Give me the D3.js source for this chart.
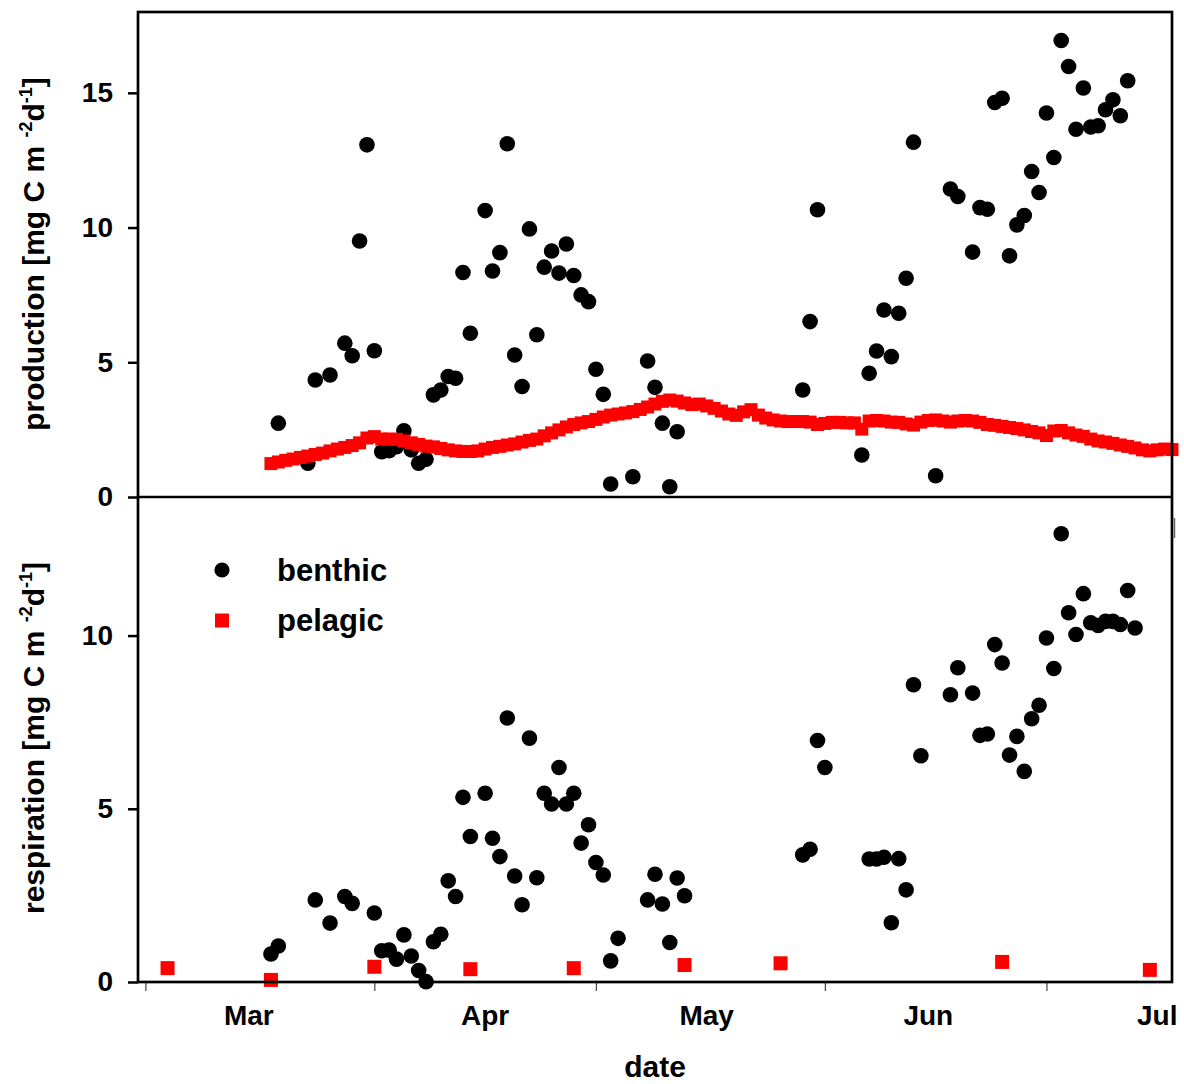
<!DOCTYPE html>
<html>
<head>
<meta charset="utf-8">
<script src="https://cdn.jsdelivr.net/npm/d3@7"></script>
<style>
  html, body { margin: 0; padding: 0; background: #fff; }
  svg { display: block; font-family: "Liberation Sans", Arial, Helvetica, sans-serif; font-weight: bold; }
</style>
</head>
<body>
<svg id="chart" width="1184" height="1084"></svg>
<script>
// ---- data (x = day of year) ----
const xTickDays = [60, 91, 121, 152, 182];
const xLabelDays = [74, 106, 136, 166, 197];
const xLabels = ["Mar", "Apr", "May", "Jun", "Jul"];
const prodTicks = [0, 5, 10, 15];
const respTicks = [0, 5, 10];

const benthicProdDays = [78,82,83,85,87,88,89,90,91,92,93,94,95,96,97,98,99,100,101,102,103,104,106,107,108,109,110,111,112,113,114,115,116,117,118,119,120,121,122,123,126,128,129,130,131,132,149,150,151,157,158,159,160,161,162,163,164,167,169,170,172,173,174,175,176,177,178,179,180,181,182,183,184,185,186,187,188,189,190,191,192,193];
const benthicProdValues = [2.74,1.25,4.34,4.53,5.71,5.24,9.50,13.07,5.43,1.68,1.72,1.87,2.46,1.75,1.25,1.40,3.79,3.97,4.47,4.41,8.33,6.08,10.63,8.39,9.07,13.11,5.27,4.10,9.95,6.02,8.53,9.13,8.31,9.39,8.22,7.50,7.25,4.74,3.81,0.48,0.75,5.05,4.07,2.74,0.38,2.42,3.97,6.51,10.66,1.56,4.59,5.42,6.94,5.21,6.82,8.12,13.17,0.79,11.43,11.15,9.09,10.74,10.68,14.64,14.80,8.95,10.10,10.45,12.08,11.30,14.25,12.60,16.94,15.98,13.65,15.18,13.73,13.78,14.37,14.74,14.15,15.45];

const pelagicProdDays = [77,78,79,80,81,82,83,84,85,86,87,88,89,90,91,92,93,94,95,96,97,98,99,100,101,102,103,104,105,106,107,108,109,110,111,112,113,114,115,116,117,118,119,120,121,122,123,124,125,126,127,128,129,130,131,132,133,134,135,136,137,138,139,140,141,142,143,144,145,146,147,148,149,150,151,152,153,154,155,156,157,158,159,160,161,162,163,164,165,166,167,168,169,170,171,172,173,174,175,176,177,178,179,180,181,182,183,184,185,186,187,188,189,190,191,192,193,194,195,196,197,198,199];
const pelagicProdValues = [1.24,1.30,1.36,1.41,1.47,1.52,1.58,1.63,1.71,1.78,
  1.84,1.91,2.01,2.19,2.24,2.15,2.15,2.14,2.08,2.01,
  1.95,1.89,1.86,1.80,1.75,1.71,1.69,1.69,1.71,1.78,
  1.84,1.88,1.93,1.97,2.04,2.10,2.15,2.27,2.38,2.49,
  2.60,2.69,2.75,2.80,2.88,2.97,3.04,3.08,3.12,3.17,
  3.25,3.34,3.45,3.55,3.60,3.56,3.49,3.43,3.45,3.38,
  3.29,3.19,3.08,3.03,3.16,3.24,3.04,2.93,2.86,2.82,
  2.80,2.80,2.80,2.78,2.69,2.73,2.77,2.77,2.75,2.75,
  2.52,2.82,2.84,2.82,2.78,2.77,2.71,2.67,2.78,2.84,
  2.86,2.82,2.78,2.82,2.84,2.82,2.77,2.69,2.66,2.62,
  2.58,2.54,2.49,2.43,2.38,2.28,2.45,2.47,2.38,2.30,
  2.25,2.15,2.08,2.04,1.99,1.93,1.88,1.82,1.75,1.71,
  1.75,1.78,1.76];

const benthicRespDays = [77,78,83,85,87,88,91,92,93,94,95,96,97,98,99,100,101,102,103,104,106,107,108,109,110,111,112,113,114,115,116,117,118,119,120,121,122,123,124,128,129,130,131,132,133,149,150,151,152,158,159,160,161,162,163,164,165,169,170,172,173,174,175,176,177,178,179,180,181,182,183,184,185,186,187,188,189,190,191,192,193,194];
const benthicRespValues = [0.81,1.04,2.37,1.70,2.47,2.27,1.99,0.90,0.92,0.66,1.36,0.75,0.33,0.01,1.16,1.38,2.92,2.47,5.33,4.20,5.45,4.15,3.62,7.62,3.06,2.23,7.04,3.01,5.45,5.14,6.19,5.14,5.45,4.01,4.54,3.45,3.09,0.61,1.26,2.37,3.11,2.25,1.14,3.00,2.49,3.67,3.83,6.97,6.19,3.55,3.55,3.60,1.71,3.56,2.66,8.58,6.53,8.29,9.07,8.34,7.12,7.16,9.74,9.21,6.55,7.09,6.08,7.60,7.99,9.93,9.05,12.94,10.66,10.03,11.21,10.37,10.29,10.41,10.41,10.32,11.30,10.22];

const pelagicRespDays = [63,77,91,104,118,133,146,176,196];
const pelagicRespValues = [0.40,0.06,0.44,0.37,0.40,0.49,0.54,0.58,0.35];

const legendLabels = ["benthic", "pelagic"];

// ---- layout ----
const L = 138, R = 1172, T = 12, M = 497, B = 982;
const svg = d3.select("#chart");

const x = d3.scaleLinear().domain([59, 199]).range([L, R]);
const yProd = d3.scaleLinear().domain([0, 18]).range([M, T]);
const yResp = d3.scaleLinear().domain([0, 14]).range([B, M]);

const zip = (a, b) => a.map((d, i) => [d, b[i]]);

// ---- axes ----
function leftAxis(scale, ticks) {
  const g = svg.append("g").attr("transform", `translate(${L},0)`)
    .call(d3.axisLeft(scale).tickValues(ticks).tickSize(10).tickPadding(15).tickFormat(d3.format("d")));
  g.select(".domain").remove();
  g.selectAll(".tick line").attr("stroke", "#000").attr("stroke-width", 2.5);
  g.selectAll(".tick text").attr("font-size", 28).attr("font-weight", "bold")
    .attr("font-family", '"Liberation Sans", Arial, sans-serif').attr("fill", "#000");
}
leftAxis(yProd, prodTicks);
leftAxis(yResp, respTicks);

const gx = svg.append("g").attr("transform", `translate(0,${B})`)
  .call(d3.axisBottom(x).tickValues(xTickDays).tickSize(9).tickFormat(""));
gx.select(".domain").remove();
gx.selectAll(".tick line").attr("stroke", "#444").attr("stroke-width", 1.2);

svg.append("g").selectAll("text").data(xLabelDays).join("text")
  .attr("x", d => x(d)).attr("y", 1025)
  .attr("text-anchor", "middle").attr("font-size", 28).attr("fill", "#000")
  .text((d, i) => xLabels[i]);

// ---- marks: production ----
const r = 7.8, sq = 13;
svg.append("g").selectAll("circle").data(zip(benthicProdDays, benthicProdValues)).join("circle")
  .attr("cx", d => x(d[0])).attr("cy", d => yProd(d[1])).attr("r", r).attr("fill", "#000");
svg.append("g").selectAll("rect").data(zip(pelagicProdDays, pelagicProdValues)).join("rect")
  .attr("x", d => x(d[0]) - sq / 2).attr("y", d => yProd(d[1]) - sq / 2)
  .attr("width", sq).attr("height", sq).attr("fill", "#ff0000");

// ---- marks: respiration ----
svg.append("g").selectAll("circle").data(zip(benthicRespDays, benthicRespValues)).join("circle")
  .attr("cx", d => x(d[0])).attr("cy", d => yResp(d[1])).attr("r", r).attr("fill", "#000");
svg.append("g").selectAll("rect").data(zip(pelagicRespDays, pelagicRespValues)).join("rect")
  .attr("x", d => x(d[0]) - 7).attr("y", d => yResp(d[1]) - 7)
  .attr("width", 14).attr("height", 14).attr("fill", "#ff0000");

// ---- frame ----
const frame = svg.append("g").attr("fill", "none").attr("stroke", "#000").attr("stroke-width", 2.7);
frame.append("rect").attr("x", L).attr("y", T).attr("width", R - L).attr("height", B - T);
frame.append("line").attr("x1", L).attr("x2", R).attr("y1", M).attr("y2", M);
svg.append("line").attr("x1", R + 2.5).attr("x2", R + 2.5).attr("y1", 518).attr("y2", 538)
  .attr("stroke", "#666").attr("stroke-width", 1.5);

// ---- axis titles ----
function yTitle(cx, cy, word) {
  const t = svg.append("text").attr("transform", `translate(${cx},${cy}) rotate(-90)`)
    .attr("text-anchor", "middle").attr("font-size", 30).attr("fill", "#000");
  t.append("tspan").text(word + " [mg C m ");
  t.append("tspan").attr("font-size", 18).attr("dy", -12).text("-2");
  t.append("tspan").attr("dy", 12).text("d");
  t.append("tspan").attr("font-size", 18).attr("dy", -12).text("-1");
  t.append("tspan").attr("dy", 12).text("]");
}
yTitle(44, 254, "production");
yTitle(44, 738, "respiration");

svg.append("text").attr("x", 655).attr("y", 1077).attr("text-anchor", "middle")
  .attr("font-size", 30).attr("fill", "#000").text("date");

// ---- legend ----
svg.append("circle").attr("cx", 222).attr("cy", 570).attr("r", 7.6).attr("fill", "#000");
svg.append("rect").attr("x", 215).attr("y", 613.5).attr("width", 14).attr("height", 14).attr("fill", "#ff0000");
svg.append("g").selectAll("text").data(legendLabels).join("text")
  .attr("x", 277).attr("y", (d, i) => 581 + i * 50)
  .attr("font-size", 31).attr("fill", "#000").text(d => d);
</script>
</body>
</html>
